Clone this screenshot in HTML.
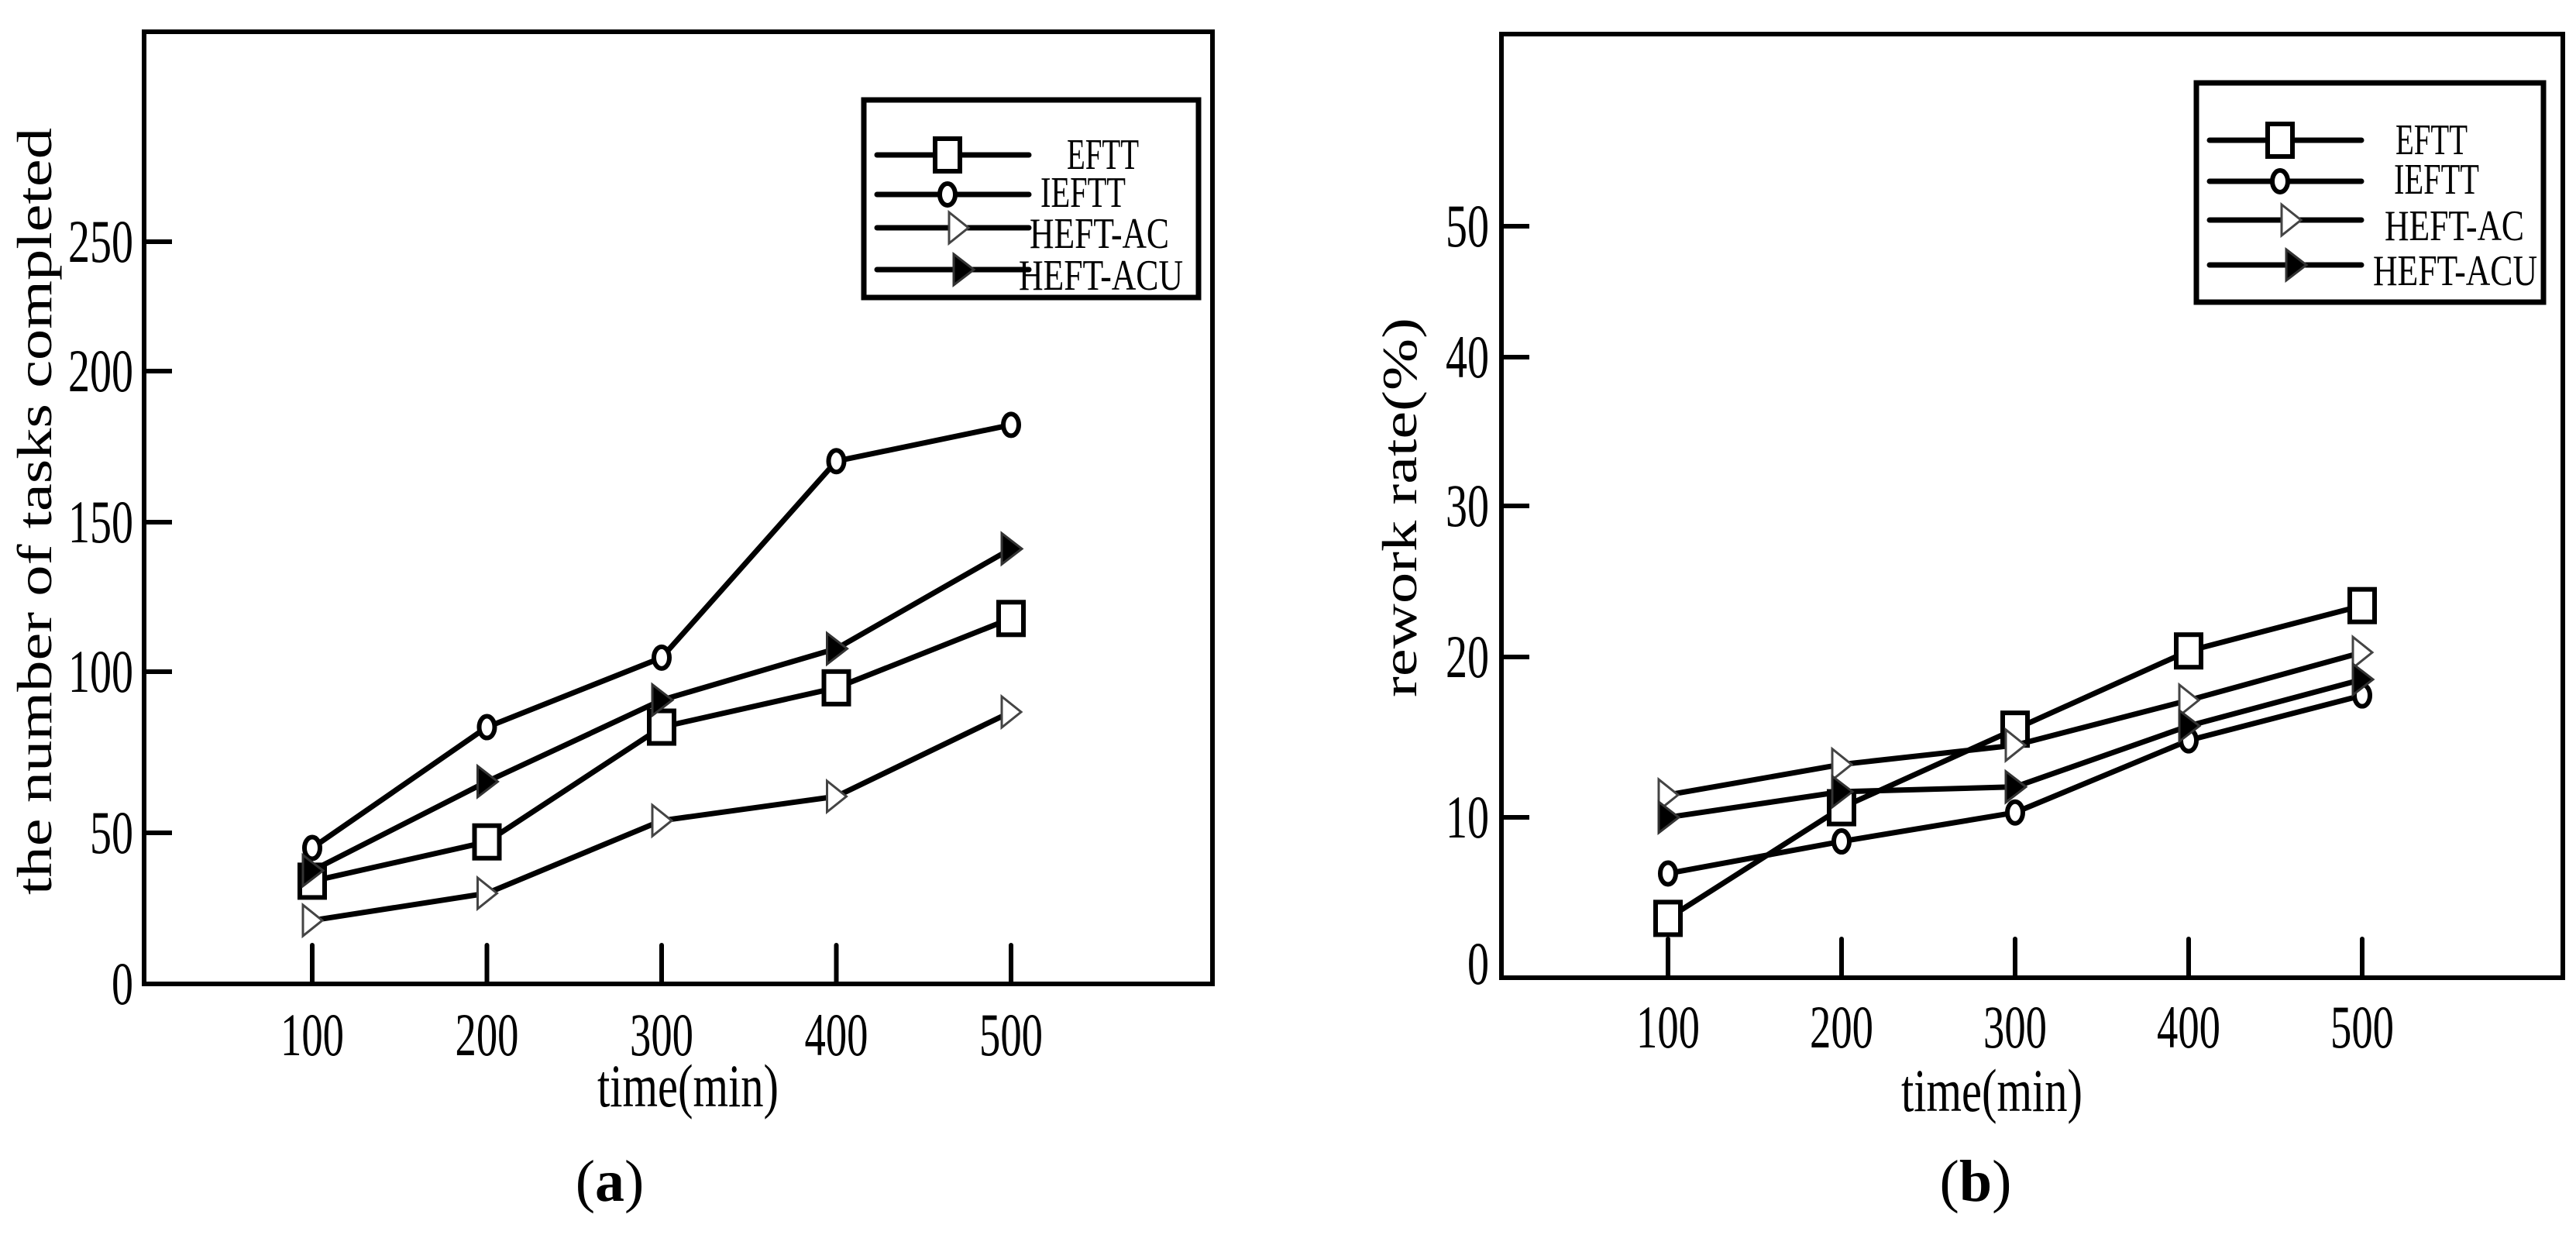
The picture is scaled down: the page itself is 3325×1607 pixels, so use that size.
<!DOCTYPE html>
<html><head><meta charset="utf-8">
<style>
html,body{margin:0;padding:0;background:#fff;}
svg{display:block;}
text{font-family:"Liberation Serif",serif;fill:#000;}
</style></head>
<body>
<svg id="fig" width="3325" height="1607" viewBox="0 0 3325 1607" xmlns="http://www.w3.org/2000/svg"></svg>
<script>
// ---- data ----
const times = [100, 200, 300, 400, 500];
const seriesNames = ["EFTT", "IEFTT", "HEFT-AC", "HEFT-ACU"];
const aEFTT = [34, 47, 82.8, 95, 117.8];
const aIEFTT = [45, 82.8, 104.7, 170.2, 182.2];
const aHEFTAC = [21, 30, 53.8, 61.3, 87.5];
const aHEFTACU = [37.5, 65.9, 91.2, 107.7, 141.1];
const bEFTT = [3.7, 10.6, 15.5, 20.4, 23.4];
const bIEFTT = [6.5, 8.5, 10.3, 14.8, 17.6];
const bHEFTAC = [11.4, 13.3, 14.5, 17.3, 20.3];
const bHEFTACU = [10.0, 11.6, 11.9, 15.7, 18.6];
const aYTicks = [0, 50, 100, 150, 200, 250];
const bYTicks = [0, 10, 20, 30, 40, 50];
const xTickLabels = ["100", "200", "300", "400", "500"];

const NS = "http://www.w3.org/2000/svg";
const svg = document.getElementById("fig");
function mk(parent, tag, attrs, txt) {
  const e = document.createElementNS(NS, tag);
  for (const k in attrs) e.setAttribute(k, attrs[k]);
  if (txt !== undefined) e.textContent = txt;
  parent.appendChild(e);
  return e;
}
function marker(g, kind, x, y) {
  let m;
  if (kind === 0) m = mk(g, "rect", {x: x-16, y: y-21, width: 32, height: 42, fill: "#fff", stroke: "#000", "stroke-width": 6});
  else if (kind === 1) m = mk(g, "ellipse", {cx: x, cy: y, rx: 10, ry: 14, fill: "#fff", stroke: "#000", "stroke-width": 6});
  else if (kind === 2) m = mk(g, "polygon", {points: `${x-12},${y-20} ${x+13},${y} ${x-12},${y+20}`, fill: "#fff", stroke: "#444", "stroke-width": 3});
  else m = mk(g, "polygon", {points: `${x-12},${y-20} ${x+14},${y} ${x-12},${y+20}`, fill: "#000", stroke: "#333", "stroke-width": 3});
  return m;
}

function panel(cfg) {
  const g = mk(svg, "g", {});
  
  
  const X = t => cfg.x0 + (t - 100) * cfg.xs;
  // piecewise-linear y axis through the (uneven) tick positions
  const Y = v => {
    const tv = cfg.yTicks, tp = cfg.yPos;
    let i = 0;
    while (i < tv.length - 2 && v > tv[i + 1]) i++;
    return tp[i] + (v - tv[i]) / (tv[i + 1] - tv[i]) * (tp[i + 1] - tp[i]);
  };
  const box = mk(g, "rect", {x: cfg.L, y: cfg.T, width: cfg.R - cfg.L, height: cfg.B - cfg.T, fill: "none", stroke: "#000", "stroke-width": 6});
  
  
  cfg.yTicks.forEach((v, i) => {
    const y = Y(v);
    if (v !== 0) {
      const tk = mk(g, "line", {x1: cfg.L, x2: cfg.L + 36, y1: y, y2: y, stroke: "#000", "stroke-width": 6});
      
      
    }
    const s = String(v);
    const lb = mk(g, "text", {x: cfg.ylx, y: (v === 0 ? cfg.zeroBase : y + 26), "font-size": 78, "text-anchor": "end", textLength: s.length * 28, lengthAdjust: "spacingAndGlyphs"}, s);
    
    
  });
  times.forEach((t, i) => {
    const x = X(t);
    const tk = mk(g, "line", {x1: x, x2: x, y1: cfg.B, y2: cfg.B - 50, stroke: "#000", "stroke-width": 6, "stroke-linecap": "round"});
    
    
    const lb = mk(g, "text", {x: x, y: cfg.xlBase, "font-size": 78, "text-anchor": "middle", textLength: 82, lengthAdjust: "spacingAndGlyphs"}, xTickLabels[i]);
    
    
  });
  const xt = mk(g, "text", {x: cfg.xtX, y: cfg.xtY, "font-size": 78, "text-anchor": "middle", textLength: 234, lengthAdjust: "spacingAndGlyphs"}, "time(min)");
  
  
  const yt = mk(g, "text", {x: 0, y: 0, "font-size": 64, "text-anchor": "middle", textLength: cfg.ytLen, lengthAdjust: "spacingAndGlyphs", transform: `translate(${cfg.ytX},${cfg.ytY}) rotate(-90)`}, cfg.ytitle);
  
  
  const cap = mk(g, "text", {x: cfg.capX, y: 1550, "font-size": 76, "text-anchor": "middle"});
  
  
  mk(cap, "tspan", {}, "(");
  mk(cap, "tspan", {"font-weight": "bold"}, cfg.cap);
  mk(cap, "tspan", {}, ")");
  cfg.series.forEach((vals, k) => {
    const sg = mk(g, "g", {});
    
    
    const pts = vals.map((v, i) => `${X(times[i])},${Y(v)}`).join(" ");
    const pl = mk(sg, "polyline", {points: pts, fill: "none", stroke: "#000", "stroke-width": 7, "stroke-linejoin": "round"});
    
    
    vals.forEach((v, i) => {
      const m = marker(sg, k, X(times[i]), Y(v));
      
      
    });
  });
  const lg = mk(g, "g", {});
  
  
  const lbx = mk(lg, "rect", {x: cfg.lgL, y: cfg.lgT, width: cfg.lgR - cfg.lgL, height: cfg.lgB - cfg.lgT, fill: "#fff", stroke: "#000", "stroke-width": 7});
  
  
  seriesNames.forEach((n, k) => {
    const eg = mk(lg, "g", {});
    
    
    const ly = cfg.lgRows[k];
    mk(eg, "line", {x1: cfg.lgL + 17, x2: cfg.lgL + 213, y1: ly, y2: ly, stroke: "#000", "stroke-width": 7, "stroke-linecap": "round"});
    marker(eg, k, cfg.lgL + 108 + (k >= 2 ? 14 : 0) + (k === 3 ? 6 : 0), ly);
    const tl = [93, 110, 180, 212][k];
    const tx = mk(eg, "text", {x: cfg.lgL + cfg.lgTextX[k], y: ly + [18, 16, 26, 26][k], "font-size": 56, textLength: tl, lengthAdjust: "spacingAndGlyphs"}, n);
    
    
  });
}

panel({
  name: "chart-a", L: 186, T: 41, R: 1565, B: 1270,
  x0: 403, xs: 2.255,
  yTicks: aYTicks, yPos: [1270, 1075, 867, 674, 479, 312],
  ylx: 172, zeroBase: 1296, xlBase: 1362,
  xtX: 888, xtY: 1428, ytX: 66, ytY: 660, ytLen: 990, ytitle: "the number of tasks completed",
  capX: 787, cap: "a",
  series: [aEFTT, aIEFTT, aHEFTAC, aHEFTACU],
  lgL: 1115, lgT: 129, lgR: 1547, lgB: 384, lgRows: [200, 251, 294, 348], lgTextX: [262, 228, 214, 200]
});
panel({
  name: "chart-b", L: 1938, T: 44, R: 3308, B: 1262,
  x0: 2153, xs: 2.24,
  yTicks: bYTicks, yPos: [1262, 1055, 848, 653, 461, 292],
  ylx: 1922, zeroBase: 1270, xlBase: 1352,
  xtX: 2571, xtY: 1434, ytX: 1828, ytY: 655, ytLen: 490, ytitle: "rework rate(%)",
  capX: 2550, cap: "b",
  series: [bEFTT, bIEFTT, bHEFTAC, bHEFTACU],
  lgL: 2835, lgT: 107, lgR: 3283, lgB: 390, lgRows: [181, 234, 284, 342], lgTextX: [257, 255, 243, 228]
});
</script>
</body></html>
